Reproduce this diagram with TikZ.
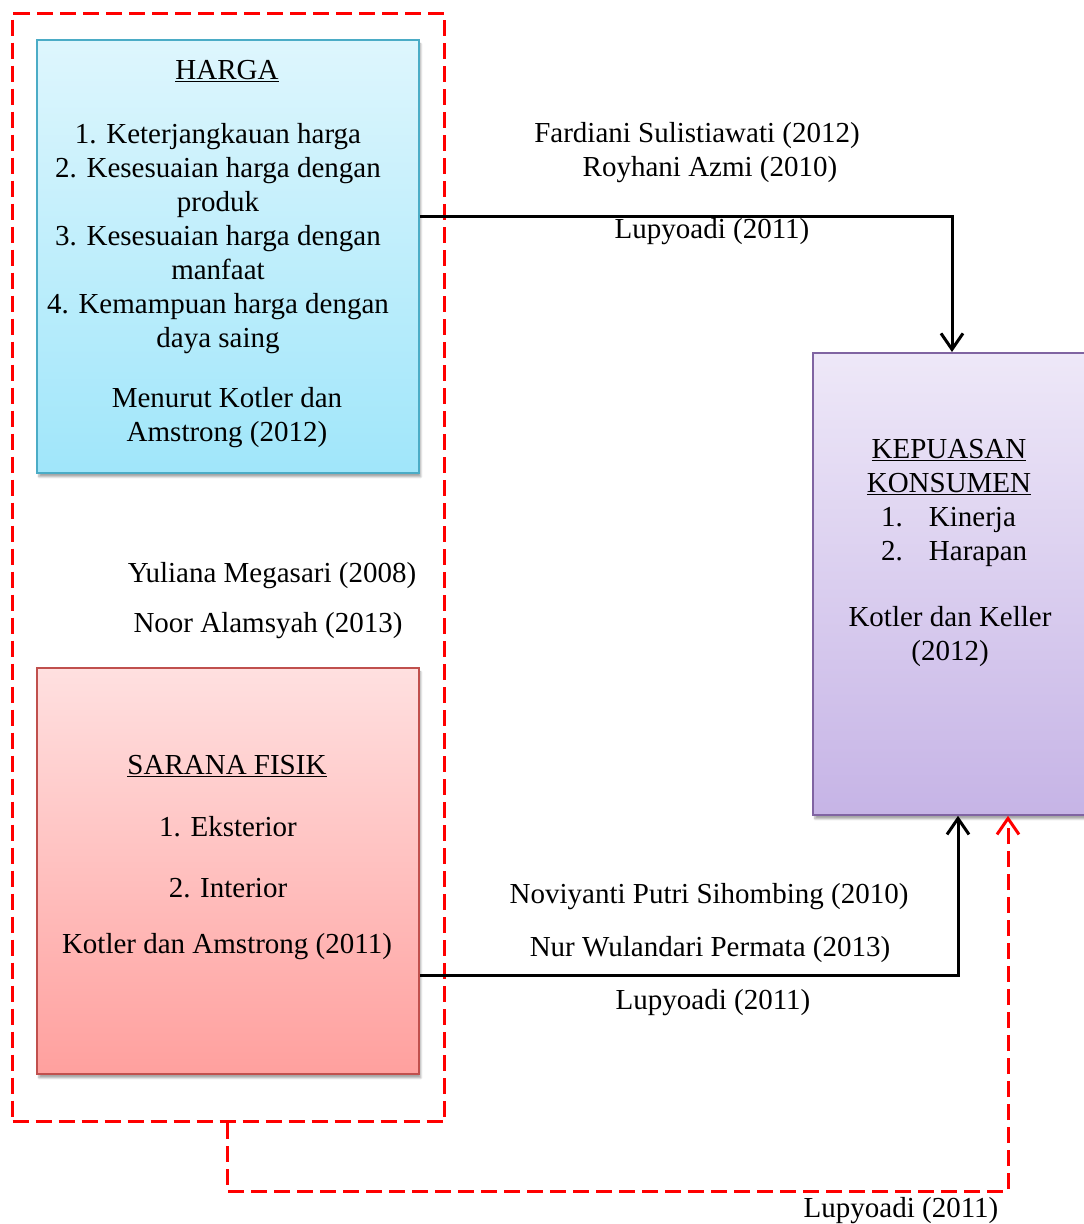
\documentclass[tikz,border=0pt]{standalone}
\usepackage{fontspec}
\setmainfont{Liberation Serif}
\usetikzlibrary{arrows.meta,shadows.blur}
\definecolor{cyantop}{RGB}{222,246,253}
\definecolor{cyanbot}{RGB}{160,230,250}
\definecolor{cyanline}{RGB}{75,172,198}
\definecolor{redtop}{RGB}{255,224,224}
\definecolor{redbot}{RGB}{255,160,158}
\definecolor{redline}{RGB}{192,80,77}
\definecolor{purtop}{RGB}{238,232,248}
\definecolor{purbot}{RGB}{198,180,230}
\definecolor{purline}{RGB}{128,100,162}
\definecolor{dashred}{RGB}{255,0,0}
\begin{document}
\begin{tikzpicture}[x=1pt,y=-1pt,
  every node/.style={font=\fontsize{29}{34}\selectfont},
  txt/.style={align=center,inner sep=0pt},
  box/.style={draw,line width=1.8pt,inner sep=0pt,anchor=north west,
    blur shadow={shadow xshift=2pt,shadow yshift=-4pt,shadow blur steps=6,shadow opacity=35}},
  tipv/.style={-{Straight Barb[length=16pt,width=22pt]}},
  conn/.style={draw=black,line width=3pt,tipv},
  reddash/.style={draw=dashred,line width=3pt,dash pattern=on 16pt off 7pt}]
\useasboundingbox (0,0) rectangle (1084,1224);
% boxes
\node[box,draw=cyanline,top color=cyantop,bottom color=cyanbot,minimum width=382pt,minimum height=433pt] (harga) at (36,39) {};
\node[box,draw=redline,top color=redtop,bottom color=redbot,minimum width=382pt,minimum height=406pt] (sarana) at (36,667) {};
\node[box,draw=purline,top color=purtop,bottom color=purbot,minimum width=280pt,minimum height=462pt] (kepuasan) at (812,352) {};
\node[reddash,minimum width=432pt,minimum height=1108pt,anchor=north west,inner sep=0pt] (group) at (11,12) {};
% HARGA texts
\node[txt] (hT) at (227,71) {\underline{HARGA}};
\node[txt] (hL) at (218,239) {1. Keterjangkauan harga\\2. Kesesuaian harga dengan\\produk\\3. Kesesuaian harga dengan\\manfaat\\4. Kemampuan harga dengan\\daya saing};
\node[txt] (hR) at (227,418) {Menurut Kotler dan\\Amstrong (2012)};
% SARANA texts
\node[txt] (sT) at (227,766) {\underline{SARANA FISIK}};
\node[txt] (s1) at (228,827) {1. Eksterior};
\node[txt] (s2) at (228,888) {2. Interior};
\node[txt] (sR) at (227,947) {Kotler dan Amstrong (2011)};
% KEPUASAN texts
\node[txt] (kT) at (949,467) {\underline{KEPUASAN}\\\underline{KONSUMEN}};
\node[txt,anchor=west] (k1) at (881,520) {1.\hspace{26pt}Kinerja};
\node[txt,anchor=west] (k2) at (881,554) {2.\hspace{26pt}Harapan};
\node[txt] (kR) at (950,637) {Kotler dan Keller\\(2012)};
% reference labels
\node[txt] (l1) at (697,136) {Fardiani Sulistiawati (2012)};
\node[txt] (l2) at (710,170) {Royhani Azmi (2010)};
\node[txt] (l3) at (712,232) {Lupyoadi (2011)};
\node[txt] (l4) at (272,576) {Yuliana Megasari (2008)};
\node[txt] (l5) at (268,626) {Noor Alamsyah (2013)};
\node[txt] (l6) at (709,897) {Noviyanti Putri Sihombing (2010)};
\node[txt] (l7) at (710,950) {Nur Wulandari Permata (2013)};
\node[txt] (l8) at (713,1003) {Lupyoadi (2011)};
\node[txt] (l9) at (901,1211) {Lupyoadi (2011)};
% connectors
\coordinate (c1) at (952,216);
\coordinate (c2) at (958,975);
\coordinate (c3) at (227,1191);
\coordinate (c4) at (1008,1191);
\draw[conn] (harga.east |- c1) -- (c1) -- (kepuasan.north -| c1);
\draw[conn] (sarana.east |- c2) -- (c2) -- (kepuasan.south -| c2);
\draw[reddash,tipv] (group.south -| c3) -- (c3) -- (c4) -- (kepuasan.south -| c4);
\end{tikzpicture}
\end{document}
